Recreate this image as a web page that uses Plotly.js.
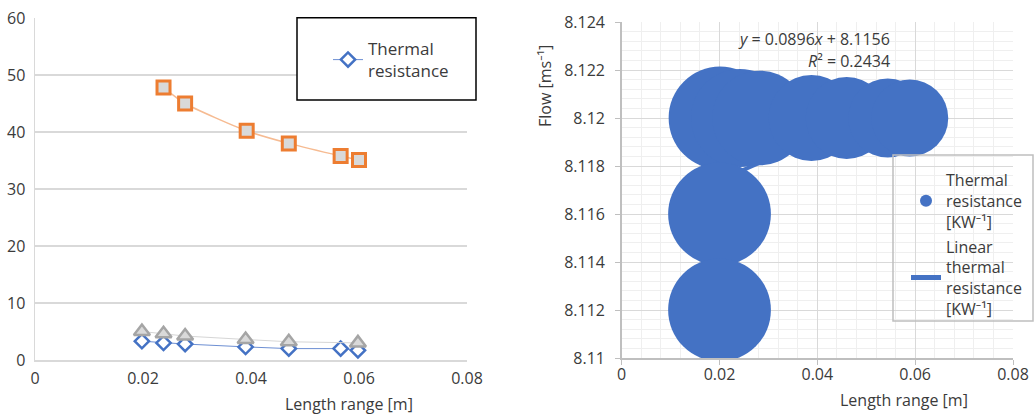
<!DOCTYPE html>
<html>
<head>
<meta charset="utf-8">
<script src="https://cdn.plot.ly/plotly-3.0.1.min.js"></script>
<style>html,body{margin:0;padding:0;background:#fff;}#chart{width:1035px;height:414px;}</style>
</head>
<body>
<div id="chart"></div>
<script>
// ---- Left chart data ----
var lenDiamond = [0.0198, 0.0238, 0.0278, 0.039, 0.047, 0.0566, 0.0598];
var resDiamond = [3.3, 3.0, 2.8, 2.3, 2.0, 2.0, 1.7];
var lenTriangle = [0.0198, 0.0238, 0.0278, 0.039, 0.047, 0.0598];
var valTriangle = [5.0, 4.6, 4.2, 3.6, 3.2, 3.0];
var lenSquare = [0.0238, 0.0278, 0.0392, 0.047, 0.0566, 0.06];
var valSquare = [47.8, 45.0, 40.2, 38.0, 35.8, 35.1];

// ---- Right chart data ----
var bubLen = [0.0201, 0.0242, 0.0282, 0.0388, 0.046, 0.0544, 0.0589, 0.02, 0.02];
var bubFlow = [8.12, 8.12, 8.12, 8.12, 8.12, 8.12, 8.12, 8.116, 8.112];
var bubRes = [3.3, 3.0, 2.8, 2.3, 2.1, 1.95, 1.85, 3.3, 3.3];
var trendLen = [0.02, 0.059];
var trendFlow = [8.1174, 8.1209];
var flowTicks = [8.11, 8.112, 8.114, 8.116, 8.118, 8.12, 8.122, 8.124];
var flowTickText = ['8.11', '8.112', '8.114', '8.116', '8.118', '8.12', '8.122', '8.124'];
var equationText = '<i>y</i> = 0.0896<i>x</i> + 8.1156';
var r2Text = '<i>R</i>² = 0.2434';

var W = 1035, H = 414;
function px(x) { return x / W; }
function py(y) { return 1 - y / H; }

var FONT = '"Open Sans", "Noto Sans", sans-serif';
var TXT = '#3b3b3b';

var traces = [
  {
    x: lenDiamond, y: resDiamond, xaxis: 'x', yaxis: 'y',
    type: 'scatter', mode: 'lines+markers', name: 'Thermal<br>resistance',
    line: {color: '#6d8fd3', width: 1},
    marker: {symbol: 'diamond', size: 11, color: '#ffffff', line: {color: '#4472c4', width: 2.5}},
    legend: 'legend', showlegend: true
  },
  {
    x: lenTriangle, y: valTriangle, xaxis: 'x', yaxis: 'y',
    type: 'scatter', mode: 'lines+markers', name: 'Series 2',
    line: {color: '#d6d6d6', width: 1},
    marker: {symbol: 'triangle-up', size: 14, color: '#d9d9d9', line: {color: '#a5a5a5', width: 2.5}},
    showlegend: false
  },
  {
    x: lenSquare, y: valSquare, xaxis: 'x', yaxis: 'y',
    type: 'scatter', mode: 'lines+markers', name: 'Series 3',
    line: {color: '#f6bb92', width: 1.5, shape: 'spline', smoothing: 0.6},
    marker: {symbol: 'square', size: 13, color: '#d9d9d9', line: {color: '#ed7d31', width: 3}},
    showlegend: false
  },
  {
    x: trendLen, y: trendFlow, xaxis: 'x2', yaxis: 'y2',
    type: 'scatter', mode: 'lines', name: 'Linear<br>thermal<br>resistance<br>[KW⁻¹]',
    line: {color: '#4472c4', width: 4},
    legend: 'legend2', legendgroup: 'b', legendrank: 2
  },
  {
    x: bubLen, y: bubFlow, xaxis: 'x2', yaxis: 'y2',
    type: 'scatter', mode: 'markers', name: 'Thermal<br>resistance<br>[KW⁻¹]',
    marker: {color: '#4472c4', size: bubRes, sizemode: 'area', sizeref: 0.000625, opacity: 1, line: {width: 0}},
    legend: 'legend2', legendgroup: 'a', legendrank: 1
  }
];

var layout = {
  width: W, height: H,
  margin: {l: 0, r: 0, t: 0, b: 0},
  paper_bgcolor: '#ffffff', plot_bgcolor: 'rgba(0,0,0,0)',
  font: {family: FONT, size: 16, color: TXT},
  xaxis: {
    domain: [px(35), px(467)], anchor: 'y',
    range: [0, 0.08], dtick: 0.02, tick0: 0,
    showgrid: false, zeroline: false,
    showline: true, linecolor: '#d9d9d9', linewidth: 1.5,
    ticks: '', ticklabelstandoff: 3,
    tickfont: {size: 16, color: TXT, family: FONT}
  },
  yaxis: {
    domain: [py(360), py(18)], anchor: 'x',
    range: [0, 60], dtick: 10, tick0: 0,
    showgrid: true, gridcolor: '#d9d9d9', gridwidth: 1.5, zeroline: false,
    showline: true, linecolor: '#d9d9d9', linewidth: 1.5,
    ticks: '', ticklabelstandoff: 5,
    tickfont: {size: 16, color: TXT, family: FONT}
  },
  xaxis2: {
    domain: [px(621.7), px(1013)], anchor: 'y2',
    range: [0, 0.08], dtick: 0.02, tick0: 0,
    showgrid: true, gridcolor: '#d9d9d9', gridwidth: 1, zeroline: false,
    showline: true, linecolor: '#bfbfbf', linewidth: 1.5,
    ticks: 'outside', ticklen: 5, tickcolor: '#bfbfbf', ticklabelstandoff: -4,
    minor: {dtick: 0.004, tick0: 0, showgrid: true, gridcolor: '#efefef', gridwidth: 1, ticks: ''},
    tickfont: {size: 16, color: TXT, family: FONT}
  },
  yaxis2: {
    domain: [py(358), py(22)], anchor: 'x2',
    range: [8.11, 8.124],
    tickmode: 'array', tickvals: flowTicks, ticktext: flowTickText,
    showgrid: true, gridcolor: '#d9d9d9', gridwidth: 1, zeroline: false,
    showline: true, linecolor: '#bfbfbf', linewidth: 1.5,
    ticks: 'outside', ticklen: 5, tickcolor: '#bfbfbf', ticklabelstandoff: 7,
    minor: {dtick: 0.0004, tick0: 8.11, showgrid: true, gridcolor: '#efefef', gridwidth: 1, ticks: ''},
    tickfont: {size: 16, color: TXT, family: FONT}
  },
  legend: {
    x: px(328), y: py(31), xanchor: 'left', yanchor: 'top',
    bgcolor: 'rgba(0,0,0,0)', borderwidth: 0,
    font: {size: 17, color: TXT, family: FONT}
  },
  legend2: {
    x: px(906), y: py(163), xanchor: 'left', yanchor: 'top',
    bgcolor: 'rgba(0,0,0,0)', borderwidth: 0,
    traceorder: 'grouped', tracegroupgap: 1, itemsizing: 'constant',
    font: {size: 16, color: TXT, family: FONT}
  },
  shapes: [
    {type: 'rect', xref: 'paper', yref: 'paper', x0: px(297), x1: px(476), y0: py(100), y1: py(17.7),
     line: {color: '#000000', width: 1.5}, fillcolor: '#ffffff', layer: 'above'},
    {type: 'rect', xref: 'paper', yref: 'paper', x0: px(893), x1: px(1033), y0: py(321), y1: py(155),
     line: {color: '#bfbfbf', width: 1.5}, fillcolor: 'rgba(0,0,0,0)', layer: 'above'}
  ],
  annotations: [
    {xref: 'paper', yref: 'paper', x: px(349), y: py(404), text: 'Length range [m]', showarrow: false,
     xanchor: 'center', yanchor: 'middle', font: {size: 16, color: TXT, family: FONT}},
    {xref: 'paper', yref: 'paper', x: px(904), y: py(400), text: 'Length range [m]', showarrow: false,
     xanchor: 'center', yanchor: 'middle', font: {size: 16, color: TXT, family: FONT}},
    {xref: 'paper', yref: 'paper', x: px(545), y: py(86), text: 'Flow [ms⁻¹]', showarrow: false,
     textangle: -90, xanchor: 'center', yanchor: 'middle', font: {size: 16, color: TXT, family: FONT}},
    {xref: 'paper', yref: 'paper', x: px(892), y: py(39), text: equationText, showarrow: false,
     xanchor: 'right', yanchor: 'middle', font: {size: 16, color: TXT, family: FONT}},
    {xref: 'paper', yref: 'paper', x: px(892), y: py(61), text: r2Text, showarrow: false,
     xanchor: 'right', yanchor: 'middle', font: {size: 16, color: TXT, family: FONT}}
  ]
};

Plotly.newPlot('chart', traces, layout, {displayModeBar: false, staticPlot: true});
</script>
</body>
</html>
